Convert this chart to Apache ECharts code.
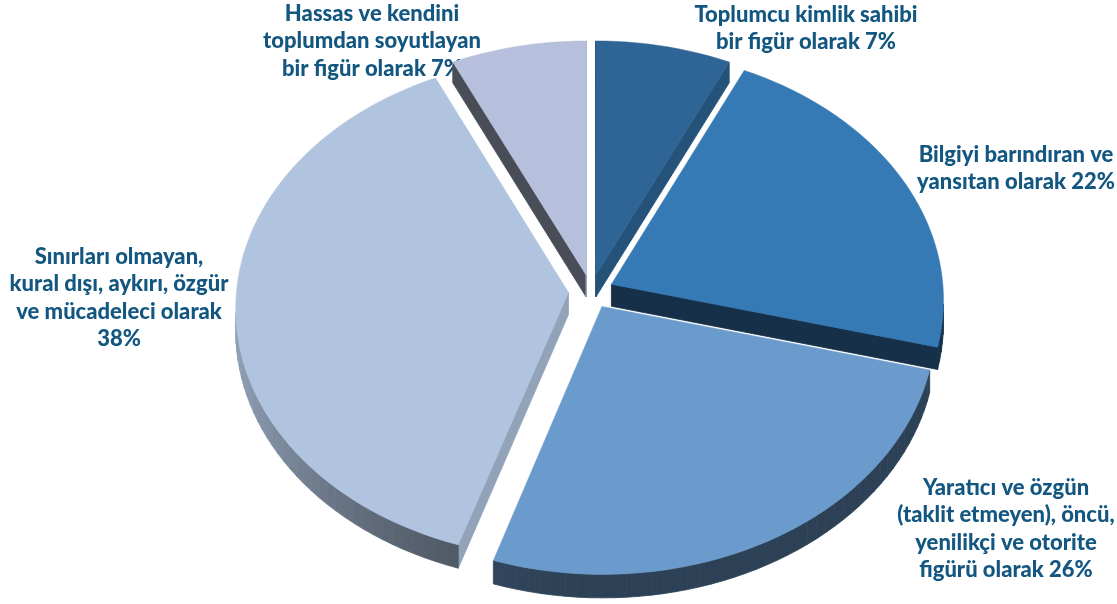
<!DOCTYPE html>
<html>
<head>
<meta charset="utf-8">
<script src="https://cdn.jsdelivr.net/npm/echarts@6/dist/echarts.min.js"></script>
<style>
html, body { margin: 0; padding: 0; background: #fff; }
#chart { width: 1117px; height: 604px; }
</style>
</head>
<body>
<div id="chart"></div>
<script>
// slices, clockwise from 12 o'clock
var categories = [
  'Toplumcu kimlik sahibi bir figür olarak',
  'Bilgiyi barındıran ve yansıtan olarak',
  'Yaratıcı ve özgün (taklit etmeyen), öncü, yenilikçi ve otorite figürü olarak',
  'Sınırları olmayan, kural dışı, aykırı, özgür ve mücadeleci olarak',
  'Hassas ve kendini toplumdan soyutlayan bir figür olarak'
];
var values = [7, 22, 26, 38, 7];
var labelTexts = [
  'Toplumcu kimlik sahibi\nbir figür olarak {p}',
  'Bilgiyi barındıran ve\nyansıtan olarak {p}',
  'Yaratıcı ve özgün\n(taklit etmeyen), öncü,\nyenilikçi ve otorite\nfigürü olarak {p}',
  'Sınırları olmayan,\nkural dışı, aykırı, özgür\nve mücadeleci olarak\n{p}',
  'Hassas ve kendini\ntoplumdan soyutlayan\nbir figür olarak {p}'
];

var colors = ['#2e6596', '#3579b5', '#6b9bcc', '#b0c4df', '#b6c0dc'];
var labelPos = [[806, 1], [1016, 141], [1006, 474], [119, 243], [372, 0]];

var PERSP = 0.06;    // far side shrinks a bit
var EXPLODE = 0.068; // slice pull-out, in radius units
var THICK = 0.088;   // slab depth, in y-axis units

function rad(d) { return d * Math.PI / 180; }

var total = values.reduce(function (a, b) { return a + b; }, 0);
var slices = [];
var acc = 0;
values.forEach(function (v, i) {
  var a0 = acc / total * 360;
  acc += v;
  var a1 = acc / total * 360;
  slices.push({ index: i, a0: a0, a1: a1, mid: (a0 + a1) / 2 });
});
// draw the far slices first
var order = slices.slice().sort(function (a, b) {
  return Math.cos(rad(b.mid)) - Math.cos(rad(a.mid));
});

function proj(X, Z, d) {
  var s = 1 / (1 + PERSP * Z);
  return [X * s, Z * s - d * THICK * s];
}

function shade(hex, f) {
  var r = parseInt(hex.substr(1, 2), 16), g = parseInt(hex.substr(3, 2), 16), b = parseInt(hex.substr(5, 2), 16);
  return 'rgb(' + Math.round(r * f) + ',' + Math.round(g * f) + ',' + Math.round(b * f) + ')';
}
function cutShade(normalDeg) {
  return 0.4 + 0.45 * Math.max(0, Math.sin(rad(normalDeg)));
}
function rimShade(deg) {
  var l = Math.max(0, -Math.sin(rad(deg)));
  return 0.42 + 0.4 * l * l;
}

function renderItem(params, api) {
  var s = order[params.dataIndex];
  var ox = EXPLODE * Math.sin(rad(s.mid)), oz = EXPLODE * Math.cos(rad(s.mid));
  var n = Math.max(2, Math.ceil((s.a1 - s.a0) / 2));
  var pts = [[ox, oz]];
  for (var k = 0; k <= n; k++) {
    var a = rad(s.a0 + (s.a1 - s.a0) * k / n);
    pts.push([ox + Math.sin(a), oz + Math.cos(a)]);
  }
  var top = pts.map(function (p) { return api.coord(proj(p[0], p[1], 0)); });
  var bot = pts.map(function (p) { return api.coord(proj(p[0], p[1], 1)); });
  var base = colors[s.index];
  var children = [];
  var m = pts.length;
  for (var j = 0; j < m; j++) {
    var j2 = (j + 1) % m;
    if (top[j2][0] - top[j][0] >= 0) continue; // faces away
    var f;
    if (j === 0) f = cutShade(s.a0 - 90);
    else if (j2 === 0) f = cutShade(s.a1 + 90);
    else f = rimShade(s.a0 + (s.a1 - s.a0) * (j - 0.5) / n);
    var c = shade(base, f);
    children.push({
      type: 'polygon',
      shape: { points: [top[j], top[j2], bot[j2], bot[j]] },
      style: { fill: c, stroke: c, lineWidth: 0.8 }
    });
  }
  children.push({
    type: 'polygon',
    shape: { points: top },
    style: { fill: base, stroke: base, lineWidth: 0.5 }
  });
  return { type: 'group', children: children };
}

var chart = echarts.init(document.getElementById('chart'));
var option = {
  animation: false,
  grid: { left: 176, right: 111, top: 4, bottom: 0 },
  xAxis: { type: 'value', min: -1.25, max: 1.25, show: false },
  yAxis: { type: 'value', min: -1.25, max: 1.15, show: false },
  series: [{
    type: 'custom',
    coordinateSystem: 'cartesian2d',
    clip: false,
    renderItem: renderItem,
    data: order.map(function (s) { return { name: categories[s.index], value: [0, 0, values[s.index]] }; })
  }],
  graphic: labelTexts.map(function (txt, i) {
    return {
      type: 'text',
      x: labelPos[i][0],
      y: labelPos[i][1],
      style: {
        text: txt.replace('{p}', values[i] + '%'),
        font: '900 22px Lato',
        fill: '#135781',
        align: 'center', textAlign: 'center',
        verticalAlign: 'top', textVerticalAlign: 'top',
        lineHeight: 27.5
      }
    };
  })
};
chart.setOption(option);
</script>
</body>
</html>
